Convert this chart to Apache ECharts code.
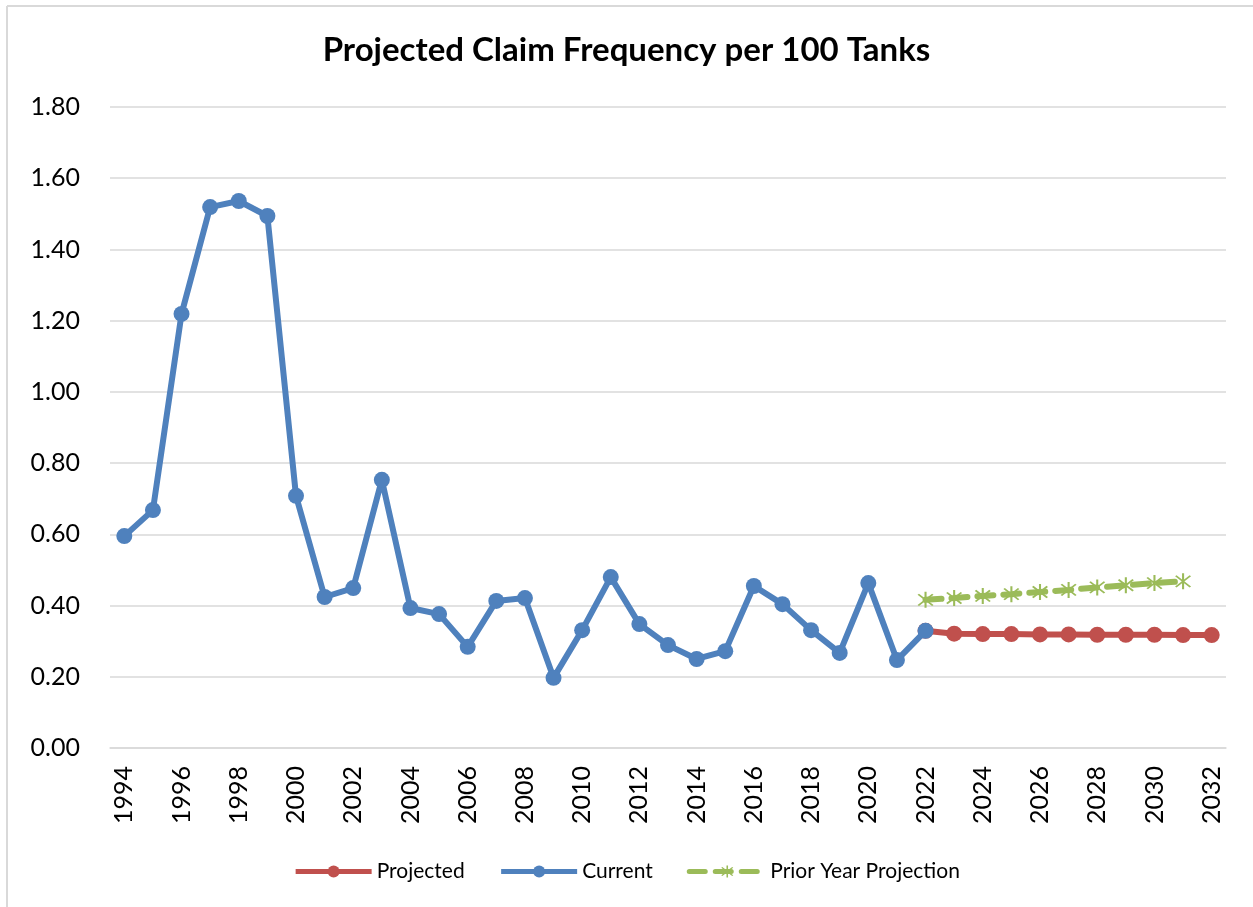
<!DOCTYPE html>
<html><head><meta charset="utf-8">
<script src="https://cdn.jsdelivr.net/npm/echarts@6/dist/echarts.min.js"></script>
<style>
html,body{margin:0;padding:0;background:#fff;}
#c{width:1253px;height:907px;}
</style></head><body>
<div id="c"></div>
<script>
const years = [];
for (let y = 1994; y <= 2032; y++) years.push(String(y));

const currentVals = [0.595,0.668,1.219,1.519,1.536,1.494,0.708,0.424,0.449,0.753,
  0.393,0.376,0.284,0.413,0.421,0.197,0.331,0.480,0.348,0.289,
  0.250,0.272,0.455,0.404,0.331,0.267,0.463,0.247,0.329];
const projectedVals = [0.329,0.321,0.320,0.320,0.319,0.319,0.318,0.318,0.318,0.317,0.317];
const priorVals = [0.416,0.421,0.427,0.432,0.438,0.444,0.451,0.457,0.463,0.468];

function place(vals, startYear) {
  return years.map(y => {
    const i = Number(y) - startYear;
    return (i >= 0 && i < vals.length) ? vals[i] : null;
  });
}

const star = 'path://M-1,-10L1,-10L1,10L-1,10Z M-6.3,-7.7L7.7,6.3L6.3,7.7L-7.7,-6.3Z M7.7,-6.3L-6.3,7.7L-7.7,6.3L6.3,-7.7Z';
const font = 'Lato, "Open Sans", sans-serif';

const chart = echarts.init(document.getElementById('c'), null, {renderer: 'canvas'});
chart.setOption({
  animation: false,
  graphic: [
    {type: 'line', shape: {x1: 7, y1: 6, x2: 1253, y2: 6}, style: {stroke: '#d9d9d9', lineWidth: 2}, silent: true},
    {type: 'line', shape: {x1: 7, y1: 6, x2: 7, y2: 907}, style: {stroke: '#d9d9d9', lineWidth: 2}, silent: true}
  ],
  title: {
    text: 'Projected Claim Frequency per 100 Tanks',
    left: 'center', top: 29,
    textStyle: {fontFamily: font, fontSize: 33, fontWeight: 'bold', color: '#000'}
  },
  legend: {
    bottom: 20, left: 'center',
    itemWidth: 76, itemHeight: 15, itemGap: 34,
    textStyle: {fontFamily: font, fontSize: 21, color: '#000'},
    lineStyle: {width: 5},
    data: ['Projected', 'Current', 'Prior Year Projection']
  },
  grid: {left: 110, right: 27, top: 107, bottom: 159},
  xAxis: {
    type: 'category', data: years, boundaryGap: true,
    axisLine: {lineStyle: {color: '#d9d9d9', width: 1.5}},
    axisTick: {show: false},
    axisLabel: {interval: 1, rotate: 90, fontFamily: font, fontSize: 25, color: '#000', margin: 18}
  },
  yAxis: {
    type: 'value', min: 0, max: 1.8, interval: 0.2,
    axisLine: {show: false}, axisTick: {show: false},
    axisLabel: {formatter: v => v.toFixed(2), fontFamily: font, fontSize: 25, color: '#000', margin: 30},
    splitLine: {lineStyle: {color: '#d9d9d9', width: 1.5}}
  },
  series: [
    {
      name: 'Projected', type: 'line', data: place(projectedVals, 2022), z: 2,
      symbol: 'circle', symbolSize: 16, showAllSymbol: true,
      lineStyle: {color: '#c0504d', width: 6},
      itemStyle: {color: '#c0504d'}
    },
    {
      name: 'Current', type: 'line', data: place(currentVals, 1994), z: 3,
      symbol: 'circle', symbolSize: 16, showAllSymbol: true,
      lineStyle: {color: '#4f81bd', width: 6},
      itemStyle: {color: '#4f81bd'}
    },
    {
      name: 'Prior Year Projection', type: 'line', data: place(priorVals, 2022), z: 2,
      symbol: star, symbolSize: 16, showAllSymbol: true,
      lineStyle: {color: '#9bbb59', width: 6, type: [16, 10], cap: 'round'},
      itemStyle: {color: '#9bbb59'}
    }
  ]
});
</script>
</body></html>
